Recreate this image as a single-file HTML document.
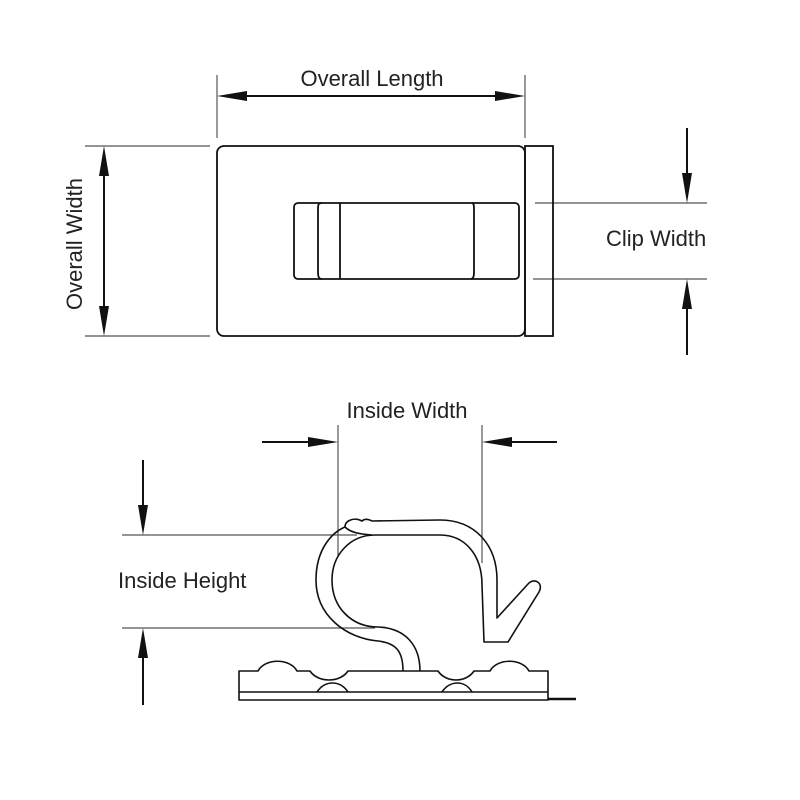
<!DOCTYPE html>
<html><head><style>body{margin:0;background:#fff}svg{display:block}text{font-family:"Liberation Sans",sans-serif;font-size:22px;fill:#222}</style></head>
<body>
<svg width="800" height="800" viewBox="0 0 800 800" xmlns="http://www.w3.org/2000/svg">
<g stroke="#555" stroke-width="1.2" fill="none">
<line x1="217" y1="75" x2="217" y2="138"/><line x1="525" y1="75" x2="525" y2="138"/>
<line x1="85" y1="146" x2="210" y2="146"/><line x1="85" y1="336" x2="210" y2="336"/>
<line x1="535" y1="203" x2="707" y2="203"/><line x1="533" y1="279" x2="707" y2="279"/>
<line x1="338" y1="425" x2="338" y2="556"/><line x1="482" y1="425" x2="482" y2="563"/>
<line x1="122" y1="535" x2="357" y2="535"/><line x1="122" y1="628" x2="375" y2="628"/>
</g>
<g stroke="#111" stroke-width="2" fill="none">
<line x1="230" y1="96" x2="512" y2="96"/>
<line x1="104" y1="160" x2="104" y2="322"/>
<line x1="687" y1="128" x2="687" y2="190"/><line x1="687" y1="292" x2="687" y2="355"/>
<line x1="262" y1="442" x2="325" y2="442"/><line x1="557" y1="442" x2="495" y2="442"/>
<line x1="143" y1="460" x2="143" y2="522"/><line x1="143" y1="705" x2="143" y2="641"/>
</g>
<g fill="#111">
<polygon points="217,96 247,91 247,101"/><polygon points="525,96 495,91 495,101"/>
<polygon points="104,146 99,176 109,176"/><polygon points="104,336 99,306 109,306"/>
<polygon points="687,203 682,173 692,173"/><polygon points="687,279 682,309 692,309"/>
<polygon points="338,442 308,437 308,447"/><polygon points="482,442 512,437 512,447"/>
<polygon points="143,535 138,505 148,505"/><polygon points="143,628 138,658 148,658"/>
</g>
<g stroke="#111" stroke-width="1.8" fill="none">
<rect x="217" y="146" width="308" height="190" rx="7"/>
<rect x="525" y="146" width="28" height="190"/>
<rect x="294" y="203" width="225" height="76" rx="4"/>
<path d="M322,203 C318,203 318,205 318,210 L318,272 C318,277 319,279 322,279"/>
<line x1="340" y1="203" x2="340" y2="279"/>
<path d="M472,203 C474,203 474,206 474,210 L474,272 C474,277 473,279 471,279"/>
</g>
<g stroke="#111" stroke-width="1.6" fill="none" stroke-linejoin="round">
<path d="M239,700 L239,671 L258,671 C265,658 290,658 297,671 L310,671 C318,683 340,683 348,671 L438,671 C446,683 466,683 474,671 L490,671 C497,658 522,658 529,671 L548,671 L548,700 Z"/>
<line x1="239" y1="692" x2="548" y2="692"/>
<path d="M317,692 C325,680 340,680 348,692"/>
<path d="M442,692 C450,680 465,680 472,692"/>
<path d="M548,699 L576,699" stroke-width="2.5"/>
<path d="M403,671 C403,650 395,643 378,641 C345,638 316,615 316,580 C316,548 333,532 345,527 C345,520 355,517 362,521 C365,518 370,520 372,521 L440,520 C475,520 497,545 497,580 L497,618 L528,584 C534,577 544,583 539,592 L508,642 L484,642 L482,585 C482,555 465,535 440,535 L375,535 C350,535 332,555 332,580 C332,608 352,627 378,627 C405,628 420,645 420,671"/>
<path d="M345,527 C350,532 358,534 372,535"/>
</g>
<text x="372" y="86" text-anchor="middle">Overall Length</text>
<text transform="translate(82,244) rotate(-90)" text-anchor="middle">Overall Width</text>
<text x="606" y="246">Clip Width</text>
<text x="407" y="418" text-anchor="middle">Inside Width</text>
<text x="118" y="588">Inside Height</text>
</svg>
</body></html>
